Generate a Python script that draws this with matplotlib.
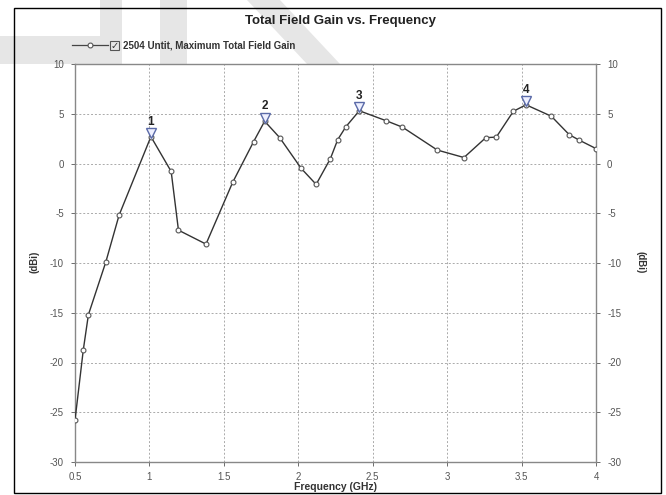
import matplotlib
matplotlib.use("Agg")
import matplotlib.pyplot as plt
from matplotlib.patches import Polygon, Rectangle
from matplotlib.lines import Line2D

# data
freq = [0.5, 0.556, 0.59, 0.707, 0.796, 1.01, 1.146, 1.195, 1.38, 1.559,
        1.70, 1.774, 1.875, 2.02, 2.12, 2.216, 2.265, 2.32, 2.41, 2.59,
        2.70, 2.934, 3.113, 3.26, 3.33, 3.445, 3.53, 3.70, 3.82, 3.887, 4.0]
gain = [-25.8, -18.7, -15.2, -9.9, -5.2, 2.7, -0.8, -6.7, -8.1, -1.9,
        2.2, 4.25, 2.6, -0.5, -2.1, 0.5, 2.4, 3.7, 5.3, 4.3,
        3.65, 1.35, 0.6, 2.6, 2.65, 5.25, 5.9, 4.75, 2.9, 2.35, 1.5]
peak_idx = [5, 11, 18, 26]
peak_names = ["1", "2", "3", "4"]
xticks = [0.5, 1, 1.5, 2, 2.5, 3, 3.5, 4]
yticks = [-30, -25, -20, -15, -10, -5, 0, 5, 10]
series_name = "2504 Untit, Maximum Total Field Gain"

W, H = 666, 495
plt.rcParams['font.family'] = ['Liberation Sans', 'DejaVu Sans']
plt.rcParams['axes.unicode_minus'] = False
fig = plt.figure(figsize=(W / 100, H / 100), dpi=100)

def fx(px):
    return px / W

def fy(py):
    return 1 - py / H

# faint watermark shapes behind everything
wm = "#e6e6e6"
shapes = [
    [(0, 36), (122, 36), (122, 64), (0, 64)],
    [(100, 0), (122, 0), (122, 36), (100, 36)],
    [(160, 0), (187, 0), (187, 64), (160, 64)],
    [(247, 0), (280, 0), (340, 64), (307, 64)],
]
for s in shapes:
    fig.patches.append(Polygon([(fx(a), fy(b)) for a, b in s], closed=True,
                               transform=fig.transFigure, facecolor=wm,
                               edgecolor="none", zorder=-2))

# outer frame
fig.patches.append(Rectangle((fx(14), fy(493)), fx(661) - fx(14), fy(8) - fy(493),
                             transform=fig.transFigure, fill=False,
                             edgecolor="black", linewidth=1.0, zorder=-1))

ax = fig.add_axes([fx(75), fy(462), fx(596) - fx(75), fy(64) - fy(462)])
ax.set_facecolor("white")
ax.plot(freq, gain, color="#333333", linewidth=1.0, marker="o", markersize=3.5,
        markerfacecolor="white", markeredgecolor="#555555", markeredgewidth=0.8,
        zorder=3)

for i, name in zip(peak_idx, peak_names):
    ax.plot(freq[i], gain[i] + 0.35, marker="v", markersize=6.5,
            markerfacecolor="#eef0ff", markeredgecolor="#5a6aa8",
            markeredgewidth=1.0, zorder=4)
    ax.text(freq[i], gain[i] + 0.9, name, ha="center", va="bottom",
            fontsize=8.5, fontweight="bold", color="#222222", zorder=5)

ax.set_xlim(0.5, 4)
ax.set_ylim(-30, 10)
ax.set_xticks(xticks)
ax.set_xticklabels([f"{t:g}" for t in xticks])
ax.set_yticks(yticks)
ax.grid(True, linestyle=(0, (2, 2)), color="#aaaaaa", linewidth=0.7)
ax.tick_params(axis="both", labelsize=7, colors="#555555", length=3, pad=5,
               width=0.6)
ax.tick_params(axis="x", pad=4)
ax.tick_params(axis="y", right=True, labelright=True)
for sp in ax.spines.values():
    sp.set_color("#888888")
    sp.set_linewidth(1.0)

ax.set_xlabel("Frequency (GHz)", fontsize=7.5, fontweight="bold",
              color="#333333", labelpad=0)
fig.text(fx(35), fy(262), "(dBi)", rotation=90, ha="center", va="center",
         fontsize=7, fontweight="bold", color="#333333")
fig.text(fx(641), fy(262), "(dBi)", rotation=270, ha="center", va="center",
         fontsize=7, fontweight="bold", color="#333333")

fig.text(fx(341), fy(21), "Total Field Gain vs. Frequency", ha="center",
         va="center", fontsize=9.5, fontweight="bold", color="#222222")

# legend row above the plot
fig.lines.append(Line2D([fx(72), fx(108)], [fy(45), fy(45)],
                        transform=fig.transFigure, color="#444444",
                        linewidth=0.9, marker="", zorder=3))
fig.lines.append(Line2D([fx(90)], [fy(45)], transform=fig.transFigure,
                        marker="o", markersize=3.5, markerfacecolor="white",
                        markeredgecolor="#555555", markeredgewidth=0.8,
                        zorder=4))
fig.patches.append(Rectangle((fx(110), fy(50)), fx(9), fy(0) - fy(9),
                             transform=fig.transFigure, fill=False,
                             edgecolor="#555555", linewidth=0.8, zorder=3))
fig.text(fx(114.5), fy(45.5), "\u2713", ha="center", va="center", fontsize=7,
         fontweight="bold", color="#333333", family=["DejaVu Sans"])
fig.text(fx(123), fy(45.5), series_name, ha="left", va="center", fontsize=7,
         fontweight="bold", color="#333333")

fig.savefig("out.png", dpi=100)
